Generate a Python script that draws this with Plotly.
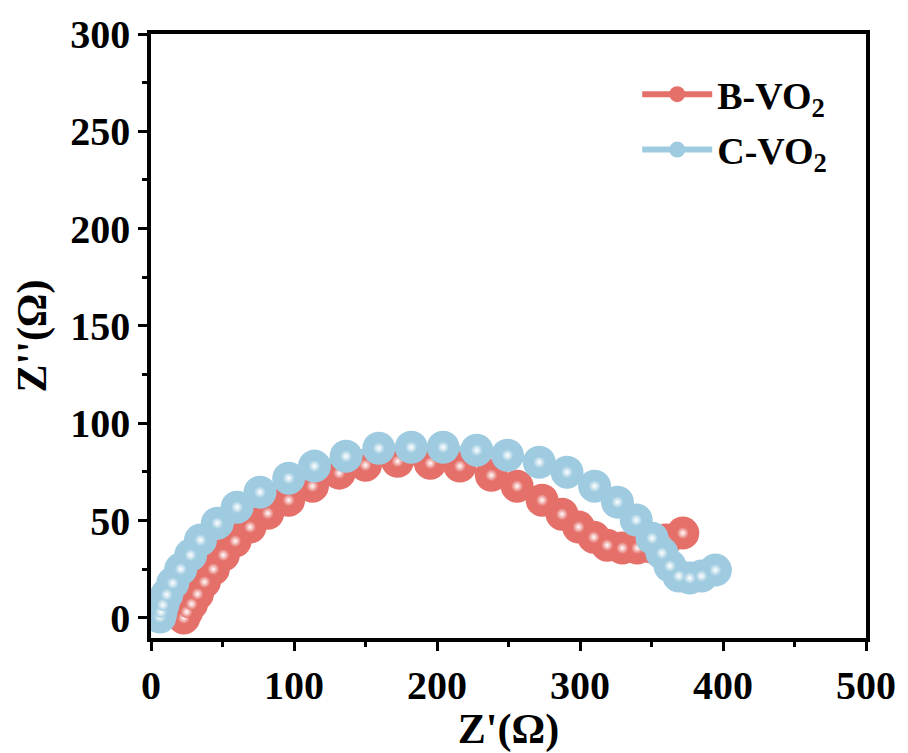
import plotly.graph_objects as go

# ---- data ----
b_x = [22.9, 24.9, 28.4, 32.5, 37.4, 43.6, 50.6, 58.9, 69.3, 81.7, 96.3, 112.9, 131.6,
       150.0, 172.4, 195.3, 216.0, 238.0, 256.0, 273.5, 287.4, 299.0, 309.6, 319.0,
       329.6, 340.0, 350.0, 360.0, 371.9]
b_y = [0.0, 3.1, 7.2, 12.3, 18.5, 25.1, 32.3, 39.5, 46.7, 53.8, 60.5, 67.7, 74.4,
       78.5, 80.5, 79.5, 78.0, 73.3, 67.7, 60.5, 53.3, 46.7, 41.5, 37.4,
       35.9, 35.9, 36.5, 40.0, 43.6]

c_x = [6.2, 7.0, 8.3, 11.0, 15.2, 20.8, 27.7, 34.6, 46.4, 60.2, 76.2, 96.3, 114.3,
       136.4, 159.3, 182.0, 204.3, 227.8, 249.3, 271.5, 290.9, 310.2, 326.2, 339.3,
       350.4, 357.3, 362.9, 369.1, 376.7, 385.0, 394.7]
c_y = [0.5, 3.0, 6.7, 12.0, 17.9, 25.1, 32.3, 40.0, 48.7, 56.9, 64.6, 71.8, 78.0,
       83.1, 87.2, 87.7, 87.7, 86.2, 83.6, 80.0, 74.9, 67.7, 59.5, 50.3,
       41.0, 33.3, 26.7, 21.5, 20.5, 21.5, 24.6]

series_names = ["B-VO<sub>2</sub>", "C-VO<sub>2</sub>"]
x_ticks = [0, 100, 200, 300, 400, 500]
y_ticks = [0, 50, 100, 150, 200, 250, 300]

RED = "#E5706A"
BLUE = "#9FCBE0"
FONT = "Times New Roman, Liberation Serif, serif"

fig = go.Figure()

for name, xs, ys, col, grp in [(series_names[0], b_x, b_y, RED, "b"),
                              (series_names[1], c_x, c_y, BLUE, "c")]:
    fig.add_trace(go.Scatter(
        x=xs, y=ys, mode="lines+markers", name=name, legendgroup=grp,
        line=dict(color=col, width=6),
        marker=dict(size=33, color=col,
                    gradient=dict(type="radial", color=col)),
    ))
    fig.add_trace(go.Scatter(
        x=xs, y=ys, mode="markers", showlegend=False, legendgroup=grp,
        hoverinfo="skip",
        marker=dict(size=12, color=col,
                    gradient=dict(type="radial", color="#FFFFFF")),
    ))

axis_common = dict(
    showline=True, linecolor="black", linewidth=3.5, mirror=True,
    ticks="outside", ticklen=9, tickwidth=3, tickcolor="black",
    showgrid=False, zeroline=False,
    tickfont=dict(family=FONT, size=40, color="black", weight="bold"),
)

fig.update_xaxes(
    range=[0, 500], tickvals=x_ticks,
    minor=dict(ticks="outside", ticklen=5, tickwidth=3, tickcolor="black", dtick=50, showgrid=False),
    title=dict(text="Z'(Ω)", font=dict(family=FONT, size=42, color="black", weight="bold"), standoff=0),
    **axis_common,
)
fig.update_yaxes(
    range=[-10.3, 300], tickvals=y_ticks,
    minor=dict(ticks="outside", ticklen=5, tickwidth=3, tickcolor="black", dtick=25, showgrid=False),
    title=dict(text="Z''(Ω)", font=dict(family=FONT, size=42, color="black", weight="bold"), standoff=12),
    **axis_common,
)

fig.update_layout(
    width=908, height=753,
    margin=dict(l=151, r=35, t=33, b=115),
    paper_bgcolor="white", plot_bgcolor="white",
    showlegend=True,
    legend=dict(
        x=0.68, y=0.952, xanchor="left", yanchor="top",
        bgcolor="rgba(0,0,0,0)", borderwidth=0,
        font=dict(family=FONT, size=38, color="black", weight="bold"),
        itemwidth=70, traceorder="grouped", tracegroupgap=3,
        itemsizing="trace",
    ),
)

fig.write_html("out.html")
